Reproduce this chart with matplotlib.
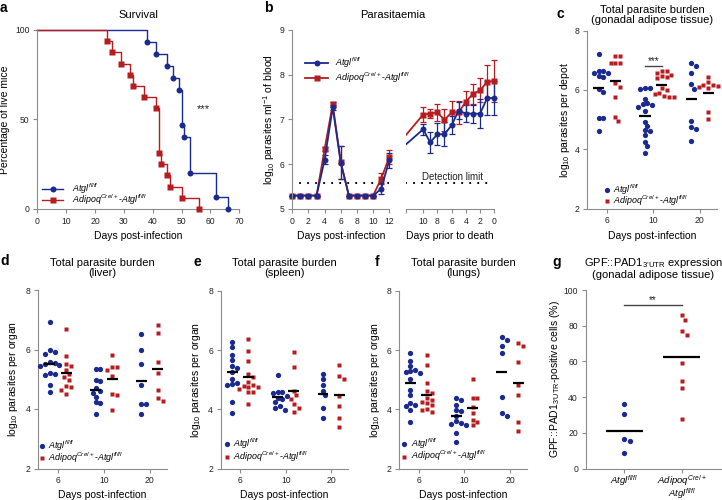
import numpy as np
import matplotlib
matplotlib.use("Agg")
import matplotlib.pyplot as plt
from matplotlib.lines import Line2D

plt.rcParams["font.family"] = ["Liberation Sans", "DejaVu Sans"]
plt.rcParams["mathtext.fontset"] = "custom"
plt.rcParams["mathtext.rm"] = "Liberation Sans"
plt.rcParams["mathtext.it"] = "Liberation Sans:italic"
plt.rcParams["mathtext.bf"] = "Liberation Sans:bold"

W, H = 722, 500
BLUE = "#1b2a8e"
RED = "#b51d21"
GREY = "#8c8c8c"
TXT = "#222222"

ATGL = r"$\mathit{Atgl}^{fl/fl}$"
ADIPOQ = r"$\mathit{Adipoq}^{Cre/+}$-$\mathit{Atgl}^{fl/fl}$"

# ---- data: (a) survival ----
atgl_days = [0, 38, 41, 45, 47, 49, 50, 51, 53, 62, 66]
atgl_surv = [100, 93.3, 86.7, 80, 73.3, 66.7, 46.7, 40, 20, 6.7, 0]
adipoq_days = [0, 24, 26, 29, 32, 33, 37, 41, 42, 43, 45, 46, 50, 56]
adipoq_surv = [100, 93.75, 87.5, 81.25, 75, 68.75, 62.5, 56.25, 31.25, 25, 18.75, 12.5, 6.25, 0]

# ---- data: (b) parasitaemia ----
days_post = list(range(13))
atgl_post = [5.3, 5.3, 5.3, 5.3, 6.10, 7.27, 6.03, 5.3, 5.3, 5.3, 5.3, 5.45, 6.09]
atgl_post_err = [0, 0, 0, 0, 0.10, 0.05, 0.37, 0, 0, 0, 0, 0.12, 0.17]
adipoq_post = [5.3, 5.3, 5.3, 5.3, 6.34, 7.34, 6.04, 5.3, 5.3, 5.3, 5.3, 5.68, 6.16]
adipoq_post_err = [0, 0, 0, 0, 0.05, 0.05, 0.37, 0, 0, 0, 0, 0.13, 0.15]

days_prior = [10, 9, 8, 7, 6, 5, 4, 3, 2, 1, 0]
atgl_prior = [6.78, 6.49, 6.67, 6.67, 6.87, 7.20, 7.13, 7.13, 7.13, 7.48, 7.48]
atgl_prior_err = [0.13, 0.24, 0.25, 0.27, 0.20, 0.19, 0.19, 0.20, 0.33, 0.38, 0.38]
adipoq_prior = [7.11, 7.13, 7.16, 6.99, 7.16, 7.16, 7.40, 7.57, 7.65, 7.84, 7.86]
adipoq_prior_err = [0.16, 0.10, 0.19, 0.25, 0.25, 0.26, 0.24, 0.22, 0.27, 0.37, 0.47]
lead_day = 13
atgl_lead = 6.36
adipoq_lead = 6.54
detection_limit = 5.57

# ---- data: (c-f) parasite burden, groups = day 6, 10, 20 ----
burden_days = ["6", "10", "20"]
gat_atgl = [[7.20, 6.64, 6.62, 6.56, 6.56, 6.47, 6.42, 6.02, 5.94, 5.05, 5.04, 4.62],
            [6.06, 6.02, 6.06, 5.69, 5.55, 5.53, 5.50, 5.44, 5.30, 4.93, 4.79, 4.65, 4.63, 4.48, 4.26, 4.11, 3.89],
            [6.92, 6.81, 6.56, 6.19, 6.04, 4.96, 4.74, 4.68, 4.29]]
gat_adipoq = [[7.13, 7.13, 6.92, 6.92, 6.92, 6.22, 6.09, 5.75, 5.10, 4.94],
              [6.65, 6.62, 6.58, 6.50, 6.47, 6.45, 6.40, 6.05, 5.98, 5.90, 5.85, 5.80, 5.76, 5.75],
              [6.43, 6.25, 6.18, 6.15, 6.12, 6.10, 6.08, 5.27, 5.02]]
gat_atgl_mean = [6.05, 5.11, 5.69]
gat_adipoq_mean = [6.31, 6.17, 5.91]

liv_atgl = [[6.91, 5.97, 5.91, 5.85, 5.58, 5.55, 5.52, 5.48, 5.46, 5.22, 5.18, 5.14, 4.79, 4.57],
            [5.35, 5.33, 4.98, 4.94, 4.70, 4.60, 4.55, 4.40, 4.22, 4.20, 3.84],
            [6.53, 5.99, 5.50, 4.79, 4.18, 4.16, 3.84]]
liv_adipoq = [[6.69, 5.77, 5.50, 5.43, 5.32, 5.16, 5.07, 4.98, 4.76, 4.74, 4.65, 4.51],
              [5.83, 5.41, 5.41, 5.30, 5.10, 4.51, 4.46, 3.96],
              [6.84, 6.55, 5.58, 5.22, 4.65, 4.38, 4.27]]
liv_atgl_mean = [5.50, 4.63, 4.94]
liv_adipoq_mean = [5.21, 5.02, 5.35]

spl_atgl = [[6.29, 6.11, 5.83, 5.66, 5.45, 5.39, 5.26, 5.03, 4.89, 4.86, 4.83, 4.26, 3.89],
            [5.17, 4.60, 4.57, 4.55, 4.46, 4.40, 4.36, 4.25, 4.11, 4.06, 3.98],
            [5.18, 5.01, 4.82, 4.63, 4.48, 4.06, 3.71]]
spl_adipoq = [[6.38, 5.97, 5.65, 5.20, 5.09, 4.91, 4.82, 4.80, 4.76, 4.74, 4.70, 4.60, 4.57, 4.17],
              [5.94, 5.43, 4.63, 4.48, 4.34, 4.17, 4.06, 3.91],
              [5.51, 5.12, 5.01, 4.46, 4.11, 3.71, 3.39]]
spl_atgl_mean = [5.26, 4.43, 4.51]
spl_adipoq_mean = [5.09, 4.63, 4.48]

lun_atgl = [[5.90, 5.64, 5.45, 5.32, 5.28, 5.26, 5.22, 5.02, 4.67, 4.50, 4.22, 4.16, 4.10, 3.99, 3.56],
            [4.39, 4.31, 4.16, 3.99, 3.93, 3.78, 3.60, 3.55, 3.50, 3.48, 3.19, 2.91],
            [6.44, 6.33, 6.13, 5.90, 4.42, 3.88, 3.76]]
lun_adipoq = [[5.85, 5.49, 4.88, 4.62, 4.56, 4.39, 4.33, 4.26, 4.22, 4.13, 4.02, 3.99, 3.90],
              [5.01, 4.39, 4.38, 4.08, 3.87, 3.65, 3.56, 3.48],
              [6.24, 6.13, 5.61, 4.82, 4.50, 3.56, 3.28]]
lun_atgl_mean = [4.88, 3.76, 5.27]
lun_adipoq_mean = [4.50, 4.05, 4.88]

# ---- data: (g) GPF::PAD1 ----
pad_groups = [r"$\mathit{Atgl}^{fl/fl}$", r"$\mathit{Adipoq}^{Cre/+}$", r"$\mathit{Atgl}^{fl/fl}$"]
pad_atgl = [36.0, 30.8, 16.6, 15.7, 8.6]
pad_adipoq = [86, 83, 77, 75, 59, 49, 45, 28]
pad_means = [21.3, 62.7]

fig = plt.figure(figsize=(W / 100, H / 100), dpi=100, facecolor="white")


def box(x0, y0, x1, y1):
    return [x0 / W, 1 - y1 / H, (x1 - x0) / W, (y1 - y0) / H]


def style(ax):
    ax.patch.set_visible(False)
    for s in ["top", "right"]:
        ax.spines[s].set_visible(False)
    for s in ["left", "bottom"]:
        ax.spines[s].set_color(GREY)
        ax.spines[s].set_linewidth(0.8)
    ax.tick_params(colors=GREY, labelcolor=TXT, length=3, width=0.8, labelsize=6.2, pad=2.5)


def ftext(x, y, s, **kw):
    fig.text(x / W, 1 - y / H, s, **kw)


def legend_rows(x_line, x_mark, x_text, ys, lw, ms_o, ms_s):
    # hand-placed legend rows, coordinates in picture pixels
    for y, c, m, ms, lab in [(ys[0], BLUE, "o", ms_o, ATGL), (ys[1], RED, "s", ms_s, ADIPOQ)]:
        yy = 1 - y / H
        if x_line is not None:
            fig.add_artist(Line2D([x_line[0] / W, x_line[1] / W], [yy, yy], color=c, lw=lw,
                                  transform=fig.transFigure))
        fig.add_artist(Line2D([x_mark / W], [yy], color=c, marker=m, ms=ms, mec="none",
                              ls="none", transform=fig.transFigure))
        ftext(x_text, y - 0.6, lab, ha="left", va="center", fontsize=6.4)


def swarm(ax, vals, d=4.8):
    pos = ax.get_position()
    x0, x1 = ax.get_xlim()
    y0, y1 = ax.get_ylim()
    xs = pos.width * W / (x1 - x0)
    ys = pos.height * H / (y1 - y0)
    vals = np.asarray(vals, dtype=float)
    off = np.zeros(len(vals))
    placed = []
    for i in np.argsort(-vals):
        y = vals[i] * ys
        k = 0
        while True:
            c = ((k + 1) // 2) * (1 if k % 2 else -1) * d / 2
            if all((c - px) ** 2 + (y - py) ** 2 >= d * d for px, py in placed):
                break
            k += 1
        placed.append((c, y))
        off[i] = c / xs
    return off


# ---------------- (a) survival ----------------
ax = fig.add_axes(box(37.3, 30, 239.3, 209))
style(ax)
for d, s, c, m in [(atgl_days, atgl_surv, BLUE, "o"), (adipoq_days, adipoq_surv, RED, "s")]:
    ax.step(d, s, where="post", color=c, lw=1.0, clip_on=False)
    ax.plot(d[1:], s[1:], m, color=c, ms=4.3, mec="none", clip_on=False, zorder=3)
ax.set_xlim(0, 70)
ax.set_ylim(0, 100)
ax.set_xticks(range(0, 71, 10))
ax.set_yticks([0, 50, 100])
ax.text(57.5, 56, "***", fontsize=8, ha="center", va="center", color=TXT)
legend_rows((42, 63), 52.5, 71.5, (189.3, 200.3), 1.0, 4.3, 3.9)
ftext(5.5, 120, "Percentage of live mice", rotation=90, ha="center", va="center", fontsize=7.5)
ftext(138.3, 236, "Days post-infection", ha="center", va="center", fontsize=7.5)
ftext(138.3, 15, "Survival", ha="center", va="center", fontsize=8)

# ---------------- (b) parasitaemia ----------------
axl = fig.add_axes(box(292.3, 30, 389.3, 209))
axr = fig.add_axes(box(406, 30, 494.3, 209))
for a in (axl, axr):
    style(a)
    a.set_ylim(5, 9)
    a.axhline(detection_limit, color="black", lw=1.6, ls=(0, (0.01, 3.6)),
              dash_capstyle="round", zorder=1)
axr.spines["left"].set_visible(False)
axr.tick_params(axis="y", left=False, labelleft=False)
eb = dict(lw=1.3, ms=4.3, mec="none", capsize=2, elinewidth=0.9, capthick=0.9, clip_on=False)
for y, e, c, m in [(adipoq_post, adipoq_post_err, RED, "s"), (atgl_post, atgl_post_err, BLUE, "o")]:
    axl.errorbar(days_post, y, yerr=e, color=c, marker=m, **eb)
for y, e, lead, c, m in [(adipoq_prior, adipoq_prior_err, adipoq_lead, RED, "s"),
                         (atgl_prior, atgl_prior_err, atgl_lead, BLUE, "o")]:
    axr.plot([lead_day, days_prior[0]], [lead, y[0]], color=c, lw=1.3)
    axr.errorbar(days_prior, y, yerr=e, color=c, marker=m, **eb)
axl.set_xlim(0, 12)
axl.set_xticks(range(0, 13, 2))
axl.set_yticks([5, 6, 7, 8, 9])
axr.set_xlim(12.4, 0)
axr.set_xticks([12.4, 10, 8, 6, 4, 2, 0])
axr.set_xticklabels(["", "10", "8", "6", "4", "2", "0"])
axr.text(5.8, 5.72, "Detection limit", fontsize=7, ha="center", va="center", color=TXT)
legend_rows((305, 328), 316.5, 335, (63.3, 78.3), 1.3, 4.3, 3.9)
ftext(269, 120, r"log$_{10}$ parasites ml$^{-1}$ of blood", rotation=90, ha="center", va="center", fontsize=7.5)
ftext(340.8, 236, "Days post-infection", ha="center", va="center", fontsize=7.5)
ftext(450.2, 236, "Days prior to death", ha="center", va="center", fontsize=7.5)
ftext(393, 15, "Parasitaemia", ha="center", va="center", fontsize=8)


# ---------------- (c-f) burden ----------------
def burden(rect, atgl, adipoq, atgl_mean, adipoq_mean, ylabel, title, leg):
    ax = fig.add_axes(box(*rect))
    style(ax)
    ax.set_xlim(-0.43, 2.37)
    ax.set_ylim(2, 8)
    ax.set_yticks([2, 4, 6, 8])
    ax.set_xticks([0, 1, 2])
    ax.set_xticklabels(burden_days)
    for g in range(3):
        for vals, mean, off, c, m, ms in [(atgl[g], atgl_mean[g], -0.18, BLUE, "o", 3.8),
                                          (adipoq[g], adipoq_mean[g], 0.18, RED, "s", 3.4)]:
            x = g + off + swarm(ax, vals)
            ax.plot(x, vals, m, color=c, ms=ms, mec="none", ls="none", clip_on=False, zorder=3)
            ax.plot([g + off - 0.12, g + off + 0.12], [mean, mean], color="black", lw=1.6,
                    solid_capstyle="butt", zorder=4)
    legend_rows(None, leg[0], leg[0] + 6.5, leg[1:], 1.0, 3.8, 3.4)
    xc = (rect[0] + rect[2]) / 2
    yc = (rect[1] + rect[3]) / 2
    ftext(ylabel[0], yc, ylabel[1], rotation=90, ha="center", va="center", fontsize=7.5)
    ftext(xc, rect[3] + 27, "Days post-infection", ha="center", va="center", fontsize=7.5)
    ftext(xc, title[0], title[1], ha="center", va="center", fontsize=8, linespacing=1.05)
    return ax


axc = burden((587, 30.5, 717, 208.7), gat_atgl, gat_adipoq, gat_atgl_mean, gat_adipoq_mean,
             (565, r"log$_{10}$ parasites per depot"),
             (15, "Total parasite burden\n(gonadal adipose tissue)"), (606.7, 190, 201))
axc.plot([1 - 0.18, 1 + 0.18], [6.82, 6.82], color="#444444", lw=1.0)
axc.text(1, 6.97, "***", fontsize=7, ha="center", va="center", color=TXT)

burden((38.3, 290, 166.7, 468.5), liv_atgl, liv_adipoq, liv_atgl_mean, liv_adipoq_mean,
       (13.3, r"log$_{10}$ parasites per organ"), (268, "Total parasite burden\n(liver)"),
       (41.7, 446, 458.3))
burden((220.7, 291, 348, 468.5), spl_atgl, spl_adipoq, spl_atgl_mean, spl_adipoq_mean,
       (196, r"log$_{10}$ parasites per organ"), (268, "Total parasite burden\n(spleen)"),
       (226.7, 444, 457.3))
burden((399, 291, 527, 468.5), lun_atgl, lun_adipoq, lun_atgl_mean, lun_adipoq_mean,
       (375, r"log$_{10}$ parasites per organ"), (268, "Total parasite burden\n(lungs)"),
       (404.3, 444, 456.7))

# ---------------- (g) GPF::PAD1 ----------------
ax = fig.add_axes(box(585.7, 290, 721, 468.7))
style(ax)
ax.set_xlim(-0.67, 1.68)
ax.set_ylim(0, 100)
ax.set_yticks(range(0, 101, 20))
ax.set_xticks([0, 1])
ax.set_xticklabels(["", ""])
for g, vals, c, m, ms in [(0, pad_atgl, BLUE, "o", 3.8), (1, pad_adipoq, RED, "s", 3.4)]:
    x = g + swarm(ax, vals, d=5.5)
    ax.plot(x, vals, m, color=c, ms=ms, mec="none", ls="none", clip_on=False, zorder=3)
    ax.plot([g - 0.32, g + 0.32], [pad_means[g], pad_means[g]], color="black", lw=1.6,
            solid_capstyle="butt", zorder=4)
ax.plot([0, 1], [91.6, 91.6], color="#444444", lw=1.0)
ax.text(0.5, 94.5, "**", fontsize=7, ha="center", va="center", color=TXT)
ftext(624.3, 481, pad_groups[0], ha="center", va="center", fontsize=6.8)
ftext(682.3, 480.5, pad_groups[1], ha="center", va="center", fontsize=6.8)
ftext(682.3, 493.5, pad_groups[2], ha="center", va="center", fontsize=6.8)
ftext(555, 379, "GPF::PAD1$_{\\mathrm{3’UTR}}$-positive cells (%)", rotation=90, ha="center",
      va="center", fontsize=7.5)
ftext(653.4, 268, "GPF::PAD1$_{\\mathrm{3’UTR}}$ expression\n(gonadal adipose tissue)",
      ha="center", va="center", fontsize=8, linespacing=1.05)

# ---------------- panel letters ----------------
for s, x, y in [("a", 3, 8), ("b", 268, 8), ("c", 560, 14), ("d", 5, 261),
                ("e", 197, 262), ("f", 377, 262), ("g", 557, 262)]:
    ftext(x, y, s, fontsize=10, fontweight="bold", ha="center", va="center")

fig.savefig("out.png", dpi=100, facecolor="white")
